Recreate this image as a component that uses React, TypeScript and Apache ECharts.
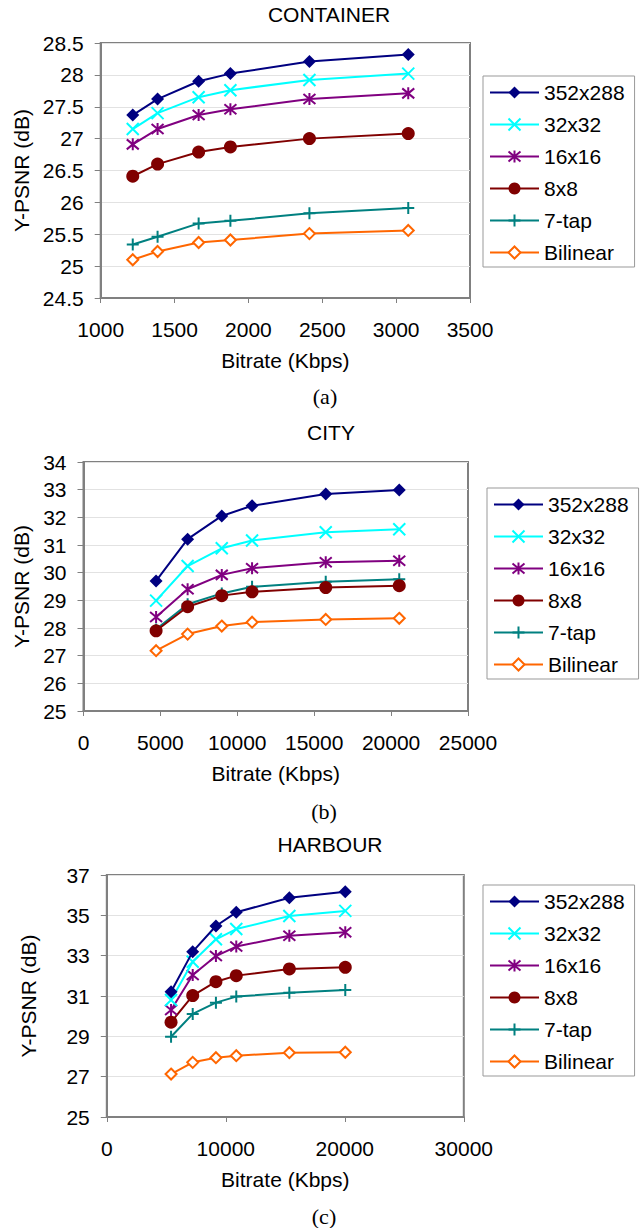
import React, { useEffect, useRef } from "react";
import * as echarts from "echarts";

const seriesNames = ["352x288", "32x32", "16x16", "8x8", "7-tap", "Bilinear"];

// (a) CONTAINER
const containerBitrate = [1217, 1385, 1663, 1878, 2413, 3082];
const container352 = [27.37, 27.62, 27.9, 28.02, 28.21, 28.32];
const container32 = [27.15, 27.4, 27.65, 27.76, 27.92, 28.02];
const container16 = [26.91, 27.15, 27.37, 27.46, 27.62, 27.71];
const container8 = [26.41, 26.6, 26.79, 26.87, 27.0, 27.08];
const container7tap = [25.34, 25.46, 25.67, 25.71, 25.83, 25.91];
const containerBilinear = [25.1, 25.23, 25.37, 25.41, 25.51, 25.56];

// (b) CITY
const cityBitrate = [4720, 6770, 8990, 10960, 15750, 20530];
const city352 = [29.7, 31.21, 32.05, 32.42, 32.84, 32.99];
const city32 = [28.99, 30.24, 30.88, 31.16, 31.46, 31.57];
const city16 = [28.4, 29.4, 29.92, 30.16, 30.38, 30.43];
const city8 = [27.9, 28.77, 29.17, 29.31, 29.46, 29.53];
const city7tap = [27.95, 28.86, 29.25, 29.49, 29.67, 29.76];
const cityBilinear = [27.18, 27.78, 28.07, 28.21, 28.31, 28.35];

// (c) HARBOUR
const harbourBitrate = [5400, 7220, 9170, 10880, 15340, 20040];
const harbour352 = [31.21, 33.2, 34.47, 35.15, 35.87, 36.17];
const harbour32 = [30.8, 32.7, 33.81, 34.32, 34.97, 35.22];
const harbour16 = [30.31, 32.04, 32.98, 33.45, 33.99, 34.16];
const harbour8 = [29.7, 31.02, 31.71, 32.01, 32.34, 32.42];
const harbour7tap = [28.98, 30.11, 30.67, 30.97, 31.16, 31.3];
const harbourBilinear = [27.13, 27.71, 27.94, 28.04, 28.19, 28.21];

const titles = ["CONTAINER", "CITY", "HARBOUR"];
const captions = ["(a)", "(b)", "(c)"];
const xTitle = "Bitrate (Kbps)";
const yTitle = "Y-PSNR (dB)";

const FONT = "'Liberation Sans', Arial, sans-serif";

const X_PATH = "path://M0,0L10,10M10,0L0,10";
const STAR_PATH = "path://M0,0L10,10M10,0L0,10M5,-1L5,11";
const PLUS_PATH = "path://M5,0L5,10M0,5L10,5";

const styles = [
  { color: "#000080", symbol: "diamond", size: 13, fill: "#000080", bw: 0 },
  { color: "#00FFFF", symbol: X_PATH, size: 12, fill: "#00FFFF", bw: 2 },
  { color: "#800080", symbol: STAR_PATH, size: 12, fill: "#800080", bw: 2 },
  { color: "#800000", symbol: "circle", size: 13, fill: "#800000", bw: 0 },
  { color: "#008080", symbol: PLUS_PATH, size: 12, fill: "#008080", bw: 2 },
  { color: "#FF6600", symbol: "diamond", size: 11, fill: "#FFFFFF", bw: 2 },
];

const panels = [
  {
    x: containerBitrate,
    ys: [container352, container32, container16, container8, container7tap, containerBilinear],
    grid: { left: 100.7, top: 43, width: 369.3, height: 255 },
    xAxis: { min: 1000, max: 3500, interval: 500 },
    yAxis: { min: 24.5, max: 28.5, interval: 0.5 },
    yGap: 63,
    legend: { left: 483, top: 76 },
    title: { x: 329, y: 14 },
    caption: { x: 325, y: 396 },
  },
  {
    x: cityBitrate,
    ys: [city352, city32, city16, city8, city7tap, cityBilinear],
    grid: { left: 83.5, top: 462, width: 384.5, height: 249 },
    xAxis: { min: 0, max: 25000, interval: 5000 },
    yAxis: { min: 25, max: 34, interval: 1 },
    yGap: 48,
    legend: { left: 487, top: 488 },
    title: { x: 331, y: 432 },
    caption: { x: 324, y: 811 },
  },
  {
    x: harbourBitrate,
    ys: [harbour352, harbour32, harbour16, harbour8, harbour7tap, harbourBilinear],
    grid: { left: 106.8, top: 875, width: 357, height: 242 },
    xAxis: { min: 0, max: 30000, interval: 10000 },
    yAxis: { min: 25, max: 37, interval: 2 },
    yGap: 68,
    legend: { left: 483, top: 885 },
    title: { x: 330, y: 844 },
    caption: { x: 324, y: 1216 },
  },
];

export default function App() {
  const ref = useRef<HTMLDivElement>(null);

  useEffect(() => {
    document.body.style.margin = "0";
    if (!ref.current) return;
    const chart = echarts.init(ref.current, undefined, { renderer: "svg" });

    const grids: any[] = [];
    const xAxes: any[] = [];
    const yAxes: any[] = [];
    const legends: any[] = [];
    const series: any[] = [];
    const graphics: any[] = [];

    panels.forEach((p, i) => {
      grids.push({
        ...p.grid,
        show: true,
        borderColor: "#808080",
        borderWidth: 2,
        backgroundColor: "#ffffff",
        containLabel: false,
      });
      xAxes.push({
        type: "value",
        gridIndex: i,
        ...p.xAxis,
        name: xTitle,
        nameLocation: "middle",
        nameGap: 52,
        nameTextStyle: { fontSize: 21, color: "#000", fontFamily: FONT },
        axisLine: { show: true, lineStyle: { color: "#808080", width: 2 } },
        axisTick: { show: true, length: 5, lineStyle: { color: "#808080", width: 1 } },
        axisLabel: {
          fontSize: 21,
          color: "#000",
          fontFamily: FONT,
          margin: 21,
          formatter: (v: number) => String(v),
        },
        splitLine: { show: false },
      });
      yAxes.push({
        type: "value",
        gridIndex: i,
        ...p.yAxis,
        name: yTitle,
        nameLocation: "middle",
        nameGap: p.yGap,
        nameRotate: 90,
        nameTextStyle: { fontSize: 21, color: "#000", fontFamily: FONT },
        axisLine: { show: true, lineStyle: { color: "#808080", width: 2 } },
        axisTick: { show: true, length: 6, lineStyle: { color: "#808080", width: 1 } },
        axisLabel: {
          fontSize: 21,
          color: "#000",
          fontFamily: FONT,
          margin: 17,
          formatter: (v: number) => String(v),
        },
        splitLine: { show: true, lineStyle: { color: "#e2e2e2", width: 1 } },
      });
      legends.push({
        orient: "vertical",
        left: p.legend.left,
        top: p.legend.top,
        data: seriesNames,
        itemWidth: 49,
        itemHeight: 15,
        itemGap: 11,
        padding: [6, 10, 4, 6],
        borderColor: "#999999",
        borderWidth: 1,
        backgroundColor: "#ffffff",
        textStyle: { fontSize: 21, color: "#000", fontFamily: FONT },
        selectedMode: false,
      });
      p.ys.forEach((ys, k) => {
        const s = styles[k];
        series.push({
          type: "line",
          name: seriesNames[k],
          xAxisIndex: i,
          yAxisIndex: i,
          data: p.x.map((xv, j) => [xv, ys[j]]),
          symbol: s.symbol,
          symbolSize: s.size,
          showAllSymbol: true,
          lineStyle: { color: s.color, width: 2 },
          itemStyle: { color: s.fill, borderColor: s.color, borderWidth: s.bw },
          z: 10 - k,
        });
      });
      graphics.push({
        type: "text",
        x: p.title.x,
        y: p.title.y,
        style: {
          text: titles[i],
          fontSize: 21,
          fontFamily: FONT,
          fill: "#000",
          textAlign: "center",
          textVerticalAlign: "middle",
        },
      });
      graphics.push({
        type: "text",
        x: p.caption.x,
        y: p.caption.y,
        style: {
          text: captions[i],
          fontSize: 22,
          fontFamily: "'Liberation Serif', 'Times New Roman', serif",
          fill: "#000",
          textAlign: "center",
          textVerticalAlign: "middle",
        },
      });
    });

    chart.setOption({
      animation: false,
      backgroundColor: "#ffffff",
      grid: grids,
      xAxis: xAxes,
      yAxis: yAxes,
      legend: legends,
      series,
      graphic: graphics,
    });

    return () => chart.dispose();
  }, []);

  return <div ref={ref} style={{ width: 642, height: 1228 }} />;
}
